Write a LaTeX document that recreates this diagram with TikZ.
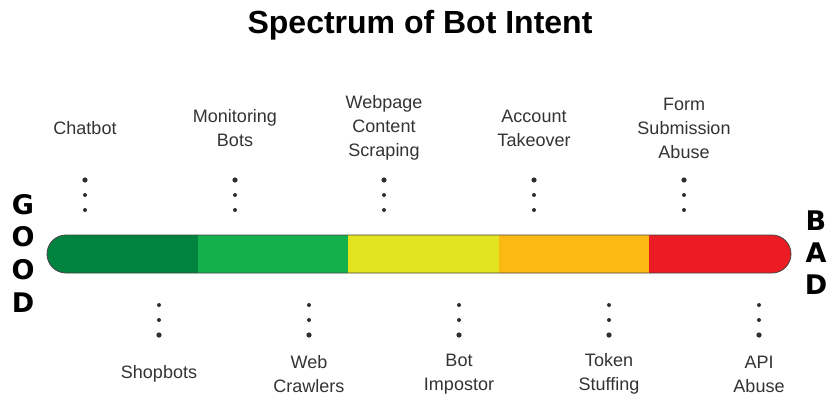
\documentclass[tikz,border=0pt]{standalone}
\usepackage{fontspec}
\setmainfont{Liberation Sans}
\newfontfamily\heavyfont{DejaVu Sans}
\definecolor{segA}{HTML}{00833F}
\definecolor{segB}{HTML}{14B04C}
\definecolor{segC}{HTML}{E1E41E}
\definecolor{segD}{HTML}{FDB913}
\definecolor{segE}{HTML}{EC1C24}
\definecolor{rim}{HTML}{444444}
\definecolor{labelgray}{HTML}{333333}
\definecolor{dotgray}{HTML}{2E2E2E}
\begin{document}
\begin{tikzpicture}[x=1pt,y=-1pt,
  lbl/.style={align=center, text=labelgray, inner sep=0pt,
              font=\fontsize{18}{24}\selectfont},
  bigletter/.style={inner sep=0pt, font=\heavyfont\fontsize{27}{27}\selectfont\bfseries},
  dotmark/.style={circle, fill=dotgray, inner sep=0pt, minimum size=4pt},
  bigdot/.style={dotmark, minimum size=5.2pt},
  barrim/.style={draw=rim, line width=0.8pt, rounded corners=19pt}]
\useasboundingbox (0,0) rectangle (827,397);

% title
\node[anchor=base, inner sep=0pt, font=\fontsize{32}{32}\selectfont\bfseries] (title) at (420,33) {Spectrum of Bot Intent};

% colour bar
\begin{scope}
  \clip[rounded corners=19pt] (47,235) rectangle (791,273);
  \fill[segA] (40,230) rectangle (198,280);
  \fill[segB] (198,230) rectangle (348,280);
  \fill[segC] (348,230) rectangle (499,280);
  \fill[segD] (499,230) rectangle (649,280);
  \fill[segE] (649,230) rectangle (800,280);
\end{scope}
\draw[barrim] (47,235) rectangle (791,273);

% GOOD / BAD
\node[bigletter] (g1) at (23,205) {G};
\node[bigletter] (g2) at (23,237) {O};
\node[bigletter] (g3) at (23,270) {O};
\node[bigletter] (g4) at (23,303) {D};
\node[bigletter] (b1) at (816,221) {B};
\node[bigletter] (b2) at (816,253) {A};
\node[bigletter] (b3) at (816,285) {D};

% labels above the bar
\node[lbl] (chat) at (85,128) {Chatbot};
\node[lbl] (moni) at (235,128) {Monitoring\\Bots};
\node[lbl] (scrp) at (384,128) {Webpage\\Content\\Scraping};
\node[lbl] (acct) at (534,128) {Account\\Takeover};
\node[lbl] (form) at (684,128) {Form\\Submission\\Abuse};

% labels below the bar
\node[lbl] (shop) at (159,374) {Shopbots};
\node[lbl] (crwl) at (309,374) {Web\\Crawlers};
\node[lbl] (impo) at (459,374) {Bot\\Impostor};
\node[lbl] (tokn) at (609,374) {Token\\Stuffing};
\node[lbl] (apia) at (759,374) {API\\Abuse};

% dotted leaders above
\foreach \x/\n in {85/1,235/2,384/3,534/4,684/5}{
  \node[bigdot]  (up\n a) at (\x,180) {};
  \node[dotmark] (up\n b) at (\x,195) {};
  \node[dotmark] (up\n c) at (\x,210) {};
}
% dotted leaders below
\foreach \x/\n in {159/1,309/2,459/3,609/4,759/5}{
  \node[dotmark] (dn\n a) at (\x,305) {};
  \node[dotmark] (dn\n b) at (\x,320) {};
  \node[bigdot]  (dn\n c) at (\x,335) {};
}
\end{tikzpicture}
\end{document}
